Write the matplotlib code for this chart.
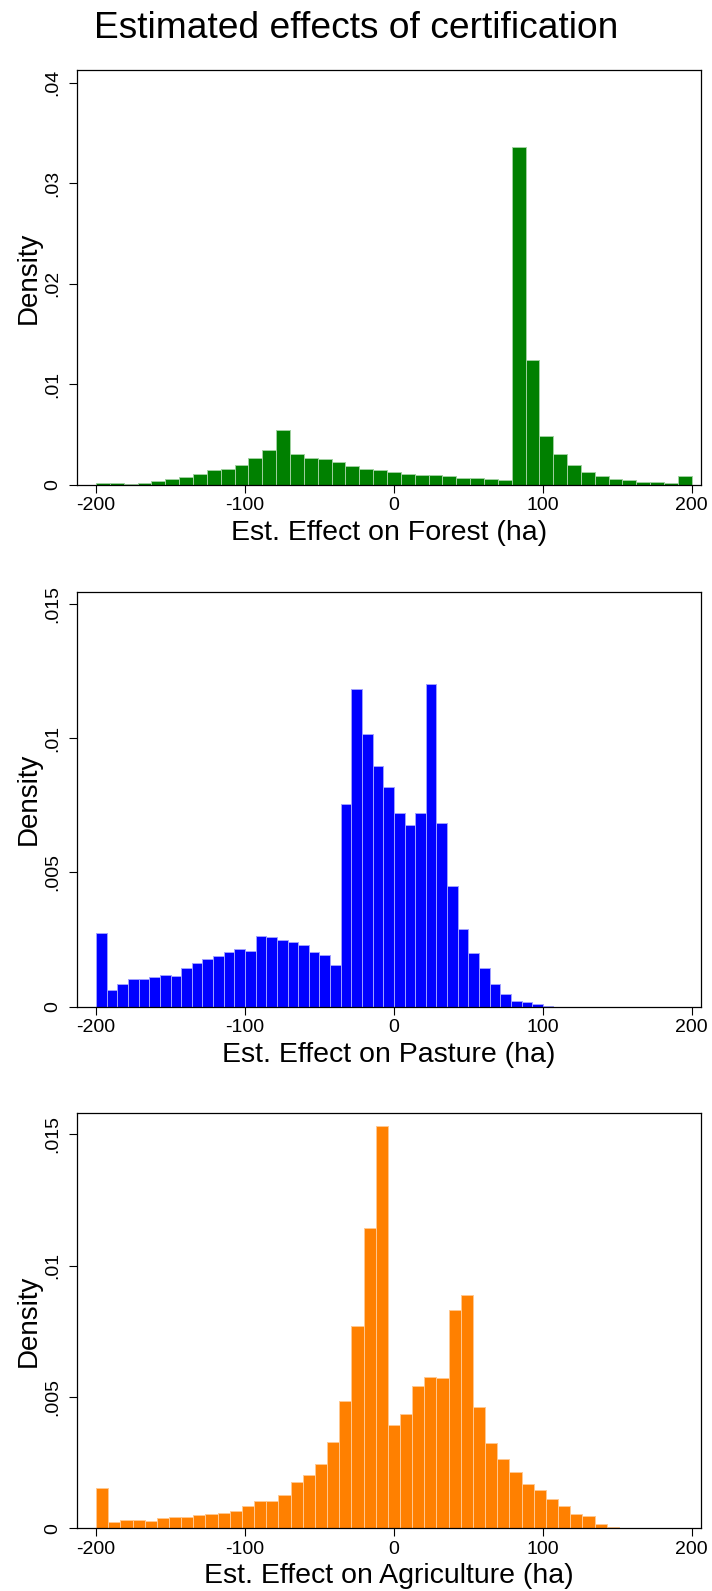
import matplotlib
matplotlib.use("Agg")
import matplotlib.pyplot as plt
import numpy as np

plt.rcParams['font.family'] = ['Liberation Sans', 'DejaVu Sans']

# histogram densities, bins span -200..200
forest = [0.00023, 0.00023, 0.0001, 0.0002, 0.00036, 0.0006, 0.00083, 0.00113,
          0.00146, 0.00159, 0.0020, 0.0027, 0.0035, 0.0055, 0.0031, 0.0027,
          0.0026, 0.00225, 0.0019, 0.0016, 0.0015, 0.00133, 0.0011, 0.00103,
          0.0010, 0.00093, 0.00073, 0.00073, 0.00063, 0.0005, 0.0336, 0.01243,
          0.0049, 0.00305, 0.0020, 0.00133, 0.00093, 0.00056, 0.0005, 0.0003,
          0.00027, 0.0002, 0.0009]

pasture = [0.00276, 0.00063, 0.00083, 0.00102, 0.00102, 0.00112, 0.00118, 0.00116,
           0.00146, 0.00162, 0.00178, 0.0019, 0.00205, 0.00216, 0.00209, 0.00265,
           0.0026, 0.00249, 0.0024, 0.00229, 0.00204, 0.00193, 0.00157, 0.00754,
           0.01185, 0.01015, 0.00897, 0.00818, 0.00721, 0.00677, 0.0072, 0.01204,
           0.00684, 0.00451, 0.00289, 0.00201, 0.00143, 0.00083, 0.00049, 0.0002,
           0.00016, 0.0001, 0.00003, 0, 0, 0, 0, 0,
           0, 0, 0, 0, 0, 0, 0, 0]

agriculture = [0.00153, 0.00023, 0.00033, 0.00032, 0.00029, 0.00038, 0.00043, 0.00043,
               0.0005, 0.00055, 0.00057, 0.00065, 0.00086, 0.00103, 0.00103, 0.00126,
               0.00175, 0.00203, 0.00245, 0.0033, 0.00484, 0.00772, 0.01142, 0.01531,
               0.00393, 0.00437, 0.00543, 0.00576, 0.00572, 0.0083, 0.00887, 0.00461,
               0.00324, 0.00264, 0.00214, 0.00169, 0.00146, 0.00112, 0.00083, 0.00056,
               0.00047, 0.00018, 0.00004, 0, 0, 0, 0, 0, 0]

xlabels = ["Est. Effect on Forest (ha)", "Est. Effect on Pasture (ha)",
           "Est. Effect on Agriculture (ha)"]
yticks = [[0, 0.01, 0.02, 0.03, 0.04], [0, 0.005, 0.01, 0.015], [0, 0.005, 0.01, 0.015]]
yticklabels = [["0", ".01", ".02", ".03", ".04"], ["0", ".005", ".01", ".015"],
               ["0", ".005", ".01", ".015"]]
ytops = [0.04125, 0.01546, 0.0158]
fills = ["#008000", "#0000ff", "#ff8000"]
edges = ["#9fd09f", "#a0a0ff", "#ffc890"]

fig = plt.figure(figsize=(7.12, 15.91), dpi=100)
W, H = 712.0, 1591.0
tops = [70, 591.7, 1113.3]
ph = 415.0
left, right = 76.7, 700.7

fig.text(0.5, 1 - 38.3 / H, "Estimated effects of certification",
         ha='center', va='baseline', fontsize=26.7)

for i, dens in enumerate([forest, pasture, agriculture]):
    bottom = tops[i] + ph
    ax = fig.add_axes([left / W, 1 - bottom / H, (right - left) / W, ph / H])
    n = len(dens)
    bins = np.linspace(-200, 200, n + 1)
    ax.bar(bins[:-1], dens, width=bins[1] - bins[0], align='edge',
           color=fills[i], edgecolor=edges[i], linewidth=0.7)
    ax.set_xlim(-213, 206)
    ax.set_ylim(0, ytops[i])
    ax.set_xticks([-200, -100, 0, 100, 200])
    ax.set_xticklabels(["-200", "-100", "0", "100", "200"])
    ax.set_yticks(yticks[i])
    ax.set_yticklabels(yticklabels[i], rotation=90, va='center')
    ax.tick_params(direction='out', length=5.5, width=0.8, labelsize=14, pad=3.5)
    ax.tick_params(axis='y', pad=5.5)
    for s in ax.spines.values():
        s.set_linewidth(0.9)
    ax.set_xlabel(xlabels[i], fontsize=20.5)
    ax.xaxis.set_label_coords(0.5, -55 / ph)
    ax.xaxis.label.set_va('baseline')
    ax.set_ylabel("Density", fontsize=20)
    ax.yaxis.set_label_coords(-48.4 / (right - left), 0.5)
    ax.yaxis.label.set_va('center')

fig.savefig("out.png", dpi=100)
